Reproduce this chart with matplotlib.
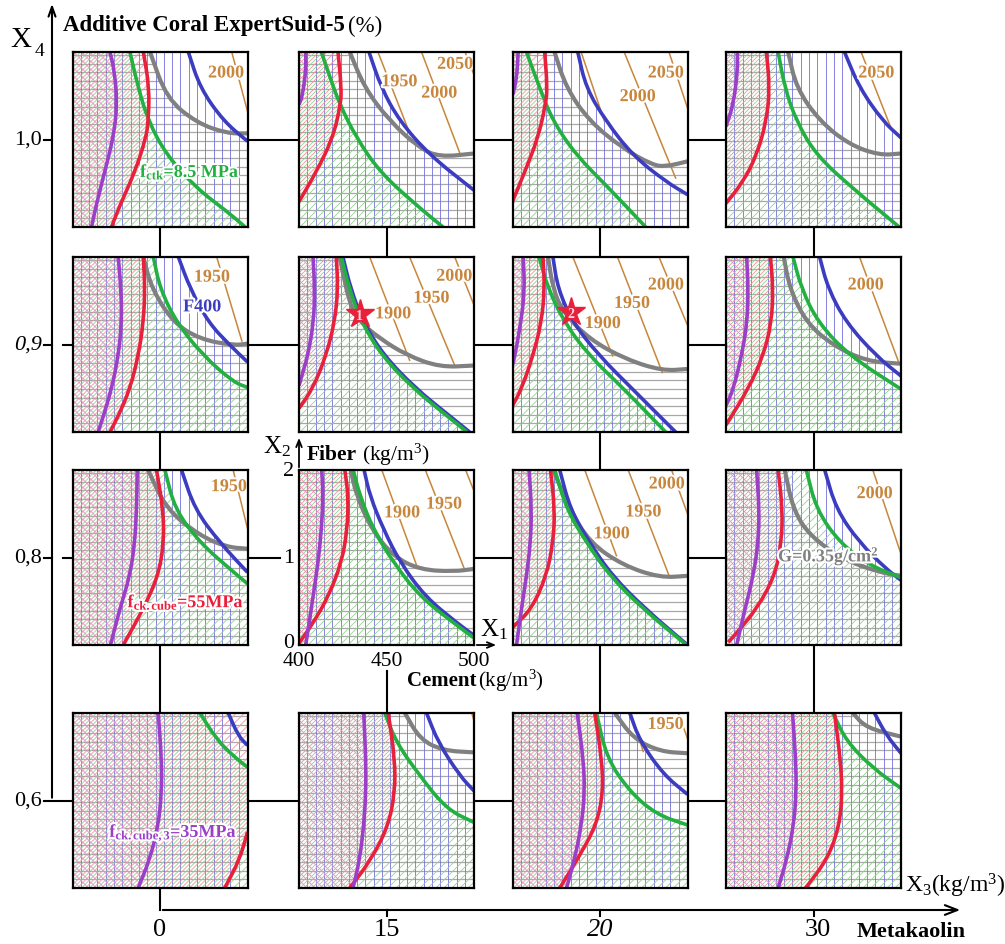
import numpy as np
import matplotlib
matplotlib.use('Agg')
import matplotlib.pyplot as plt
from matplotlib.path import Path
from matplotlib.patches import PathPatch
from matplotlib.collections import LineCollection
import matplotlib.patheffects as pe

plt.rcParams['font.family'] = 'Liberation Serif'
plt.rcParams['mathtext.fontset'] = 'custom'
plt.rcParams['mathtext.rm'] = 'Liberation Serif'
plt.rcParams['mathtext.it'] = 'Liberation Serif:italic'
plt.rcParams['mathtext.bf'] = 'Liberation Serif:bold'

# ---- data (cement kg/m3, fiber kg/m3), panels in row-major order r0c0 .. r3c3
additive_labels = ['1,0', '0,9', '0,8', '0,6']      # X4, rows
metakaolin_labels = ['0', '15', '20', '30']          # X3, columns

# f_ck,cube,3 = 35 MPa
purple = [
    [(421.4, 2), (424, 1.78), (425.6, 1.40), (423.3, 1.02), (418.5, 0.64), (413.4, 0.24), (410.9, 0)],
    [(403.8, 2), (404, 1.8), (402, 1.5), (400, 1.4)],
    [(403.2, 2), (402.7, 1.78), (401.3, 1.59), (400, 1.51)],
    [(406.5, 2), (406.6, 1.78), (404.2, 1.40), (400, 1.15)],
    [(426.1, 2), (427.7, 1.64), (428.1, 1.25), (426.2, 0.87), (422.3, 0.49), (417.6, 0.18), (414.7, 0)],
    [(408, 2), (409, 1.64), (408.4, 1.26), (405.1, 0.88), (402.3, 0.69), (400, 0.53)],
    [(406.1, 2), (407, 1.6), (404.2, 1.18), (401.3, 0.87), (400, 0.76)],
    [(411.8, 2), (412.7, 1.64), (412.1, 1.25), (408.9, 0.87), (404.2, 0.49), (400, 0.30)],
    [(437, 2), (436.6, 1.55), (435.6, 1.17), (432.8, 0.79), (427, 0.41), (421.7, 0)],
    [(413, 2), (413.8, 1.7), (412.8, 1.32), (410.9, 0.94), (408, 0.55), (405.2, 0.17), (403.8, 0)],
    [(409.5, 2), (410.9, 1.55), (410.3, 1.17), (408, 0.79), (405.1, 0.41), (402.3, 0)],
    [(417.5, 2), (419, 1.55), (418.4, 1.17), (415.6, 0.79), (410.8, 0.41), (406.1, 0)],
    [(449, 2), (450.9, 1.47), (450.9, 1.09), (449, 0.71), (444.2, 0.33), (437.5, 0)],
    [(437, 2), (438.2, 1.47), (438.2, 1.09), (437, 0.71), (434.7, 0.33), (430.9, 0)],
    [(437, 2), (440.4, 1.49), (441.3, 1.10), (439.4, 0.72), (435.6, 0.34), (430.9, 0)],
    [(438, 2), (439.8, 1.49), (440.2, 1.10), (438.7, 0.72), (434.9, 0.34), (429.8, 0)],
]

# f_ck,cube = 55 MPa
red = [
    [(440.5, 2), (443.9, 1.59), (443.3, 1.21), (442, 1.02), (435.7, 0.63), (427.1, 0.25), (422.3, 0)],
    [(422.3, 2), (424.2, 1.59), (423.8, 1.40), (419.4, 1.02), (409.9, 0.63), (400, 0.29)],
    [(418.4, 2), (419.9, 1.59), (418.9, 1.40), (414.6, 1.02), (407, 0.63), (400, 0.29)],
    [(423.1, 2), (425, 1.59), (423.1, 1.21), (417.5, 0.82), (409.9, 0.52), (400, 0.27)],
    [(440.5, 2), (441.4, 1.64), (440.5, 1.25), (437.6, 0.87), (432.8, 0.49), (426.1, 0.18), (421.4, 0)],
    [(421.3, 2), (422.3, 1.64), (420.4, 1.26), (415.6, 0.88), (408, 0.50), (400, 0.27)],
    [(417.4, 2), (418.4, 1.64), (416.5, 1.25), (411.7, 0.87), (405.1, 0.49), (400, 0.30)],
    [(425.4, 2), (426.9, 1.64), (426, 1.25), (421.3, 0.87), (412.7, 0.49), (400, 0.08)],
    [(448, 2), (451.8, 1.55), (452.2, 1.17), (449, 0.79), (440.4, 0.41), (429, 0)],
    [(426.2, 2), (428.2, 1.7), (427.6, 1.32), (424.3, 0.94), (416.7, 0.55), (408, 0.25), (400, 0.02)],
    [(421.7, 2), (424.2, 1.55), (423.2, 1.17), (419.4, 0.79), (410.9, 0.41), (400, 0.2)],
    [(429.8, 2), (432.3, 1.55), (431.7, 1.17), (427.9, 0.79), (417.5, 0.41), (406.1, 0.14), (401.3, 0.03)],
    [(500, 0.64), (495.6, 0.33), (487, 0)],
    [(451, 2), (454.8, 1.47), (454.8, 1.09), (451, 0.71), (441.4, 0.33), (429, 0)],
    [(447, 2), (450.9, 1.49), (451.8, 1.10), (448, 0.72), (437.5, 0.34), (427, 0)],
    [(462, 2), (465.3, 1.49), (466.4, 1.10), (464.9, 0.72), (458.3, 0.34), (445.5, 0)],
]

# f_ctk = 8.5 MPa
green = [
    [(432.8, 2), (437.6, 1.59), (443.3, 1.21), (453.8, 0.82), (471, 0.44), (488.2, 0.18), (498.7, 0)],
    [(412.8, 2), (417.9, 1.70), (423.3, 1.40), (432.8, 1.02), (446.1, 0.63), (467, 0.25), (482.3, 0)],
    [(408, 2), (415.5, 1.59), (423.1, 1.21), (436.4, 0.82), (455.3, 0.44), (476.1, 0)],
    [(429.8, 2), (433.6, 1.59), (440.2, 1.21), (451.6, 0.82), (472.5, 0.44), (499, 0)],
    [(446.2, 2), (450, 1.64), (459.5, 1.25), (474.8, 0.87), (492, 0.57), (500, 0.51)],
    [(424.2, 2), (428.6, 1.64), (435.6, 1.26), (447, 0.88), (465.1, 0.50), (484.2, 0.19), (496, 0)],
    [(415.2, 2), (420.3, 1.64), (429.7, 1.25), (443.9, 0.87), (463.8, 0.49), (487.5, 0)],
    [(438.3, 2), (443.1, 1.64), (452.6, 1.25), (470.6, 0.87), (500, 0.49)],
    [(452.8, 2), (458.5, 1.55), (472.8, 1.17), (489.9, 0.87), (500, 0.70)],
    [(431, 2), (434.9, 1.7), (442.5, 1.32), (454, 0.94), (469.3, 0.55), (488.5, 0.25), (500, 0.08)],
    [(424.2, 2), (430.9, 1.55), (442.3, 1.17), (455.6, 0.79), (474.7, 0.41), (499.4, 0)],
    [(445.9, 2), (451.6, 1.55), (464.9, 1.17), (482, 0.91), (500, 0.77)],
    [(472.8, 2), (482.3, 1.70), (491.8, 1.51), (500, 1.38)],
    [(449, 2), (455.7, 1.66), (469.1, 1.28), (484.4, 0.9), (500, 0.75)],
    [(448, 2), (453.7, 1.49), (467, 1.10), (482.3, 0.84), (500, 0.72)],
    [(461.1, 2), (468.7, 1.68), (483.9, 1.37), (500, 1.14)],
]

# F400
blue = [
    [(466.2, 2), (472.9, 1.59), (486.3, 1.21), (500, 0.98)],
    [(440, 2), (447, 1.59), (457.5, 1.21), (474.7, 0.82), (500, 0.42)],
    [(437.3, 2), (442, 1.59), (453.4, 1.21), (468.6, 0.82), (487.5, 0.52), (500, 0.37)],
    [(467.7, 2), (476.3, 1.59), (489.6, 1.21), (500, 1.02)],
    [(460.5, 2), (467.2, 1.64), (477.7, 1.25), (490, 0.99), (500, 0.80)],
    [(425.1, 2), (429.5, 1.64), (436.6, 1.26), (448.2, 0.88), (466.5, 0.50), (485.7, 0.19), (497.5, 0)],
    [(423.1, 2), (425.9, 1.64), (434.5, 1.25), (449.6, 0.87), (468.6, 0.49), (493.2, 0)],
    [(453.5, 2), (458.3, 1.64), (468.7, 1.25), (485.8, 0.87), (500, 0.64)],
    [(462.3, 2), (469.9, 1.55), (484.2, 1.17), (500, 0.83)],
    [(437.2, 2), (440.6, 1.7), (448.3, 1.32), (457.9, 0.94), (472.2, 0.55), (490.4, 0.25), (500, 0.11)],
    [(427, 2), (433, 1.55), (444, 1.17), (457, 0.79), (476, 0.41), (500, 0)],
    [(456.4, 2), (463, 1.55), (476.3, 1.17), (491.5, 0.87), (500, 0.74)],
    [(489, 2), (494.7, 1.74), (500, 1.63)],
    [(472.9, 2), (479.6, 1.66), (492, 1.28), (500, 1.11)],
    [(467, 2), (472.8, 1.68), (486.1, 1.30), (500, 1.07)],
    [(484.8, 2), (491.5, 1.75), (500, 1.54)],
]

# G = 0.35 g/cm2 (None: whole panel below the limit)
gray = [
    [(444.3, 2), (453.8, 1.47), (471, 1.19), (488.2, 1.07), (500, 1.07)],
    [(429, 2), (437.5, 1.59), (451.8, 1.21), (469, 0.90), (480.4, 0.80), (500, 0.84)],
    [(424, 2), (430.7, 1.59), (443.9, 1.21), (462.9, 0.9), (479.9, 0.71), (487.5, 0.69), (500, 0.75)],
    [(435.5, 2), (440.2, 1.59), (453.5, 1.21), (470.6, 0.94), (487.7, 0.82), (500, 0.84)],
    [(440.5, 2), (445.2, 1.64), (457.6, 1.25), (472.9, 1.06), (492, 0.99), (500, 1.01)],
    [(423.2, 2), (429, 1.45), (434.7, 1.26), (446.1, 1.07), (461.3, 0.88), (480.4, 0.74), (500, 0.76)],
    [(420.3, 2), (423.1, 1.64), (428.8, 1.37), (443.9, 1.06), (464.8, 0.83), (485.6, 0.70), (500, 0.72)],
    [(433, 2), (436.4, 1.64), (445.9, 1.25), (461.1, 0.99), (480.1, 0.81), (500, 0.78)],
    [(443.2, 2), (453.7, 1.55), (472.8, 1.25), (488, 1.12), (500, 1.10)],
    [(429.5, 2), (433, 1.7), (441.6, 1.32), (454, 1.01), (469.3, 0.86), (488.5, 0.84), (500, 0.87)],
    [(423.2, 2), (432.8, 1.55), (444.2, 1.17), (463.2, 0.91), (484.2, 0.77), (500, 0.79)],
    [(433.6, 2), (438.3, 1.55), (447.8, 1.25), (466.8, 0.98), (487.7, 0.83), (500, 0.79)],
    None,
    [(460.5, 2), (469.1, 1.7), (482.4, 1.57), (500, 1.55)],
    [(458.5, 2), (469, 1.71), (484.2, 1.56), (500, 1.54)],
    [(472.5, 2), (480.1, 1.83), (500, 1.73)],
]

# density isolines (kg/m3): segments and their labels
density_lines = [
    [[(491, 2), (500, 1.32)]],
    [[(445.1, 2), (462.1, 1.13)], [(470, 2), (491.8, 0.85)], [(494.9, 2), (500, 1.74)]],
    [[(439.2, 2), (452.5, 1.21)], [(463.8, 2), (493.2, 0.56)], [(489.4, 2), (500, 1.36)]],
    [[(477.2, 2), (494.3, 1.13)]],
    [[(482.4, 2), (496.8, 1.04)]],
    [[(440.4, 2), (463.2, 0.82)], [(463.2, 2), (489, 0.76)], [(489, 2), (500, 1.45)]],
    [[(434.5, 2), (457.2, 0.87)], [(460, 2), (485.6, 0.68)], [(483.7, 2), (500, 1.22)]],
    [[(476.3, 2), (499, 0.78)]],
    [[(491.8, 2), (500, 1.33)]],
    [[(447.3, 2), (467.4, 0.9)], [(472.2, 2), (494.3, 0.88)], [(495.2, 2), (500, 1.76)]],
    [[(441.3, 2), (459.4, 1.02)], [(466.1, 2), (489.9, 0.77)], [(490.9, 2), (500, 1.5)]],
    [[(483.9, 2), (500, 1.04)]],
    [],
    [[(498.7, 2), (500, 1.91)]],
    [[(467.7, 2), (474.7, 1.56)], [(494.7, 2), (500, 1.71)]],
    [],
]
density_labels = [
    [(487.6, 1.76, '2000')],
    [(457.3, 1.66, '1950'), (480, 1.53, '2000'), (489.1, 1.86, '2050')],
    [(471.4, 1.49, '2000'), (487.5, 1.76, '2050')],
    [(485.8, 1.76, '2050')],
    [(479.6, 1.77, '1950')],
    [(453.7, 1.35, '1900'), (475.6, 1.53, '1950'), (488.6, 1.78, '2000')],
    [(451.5, 1.24, '1900'), (468.2, 1.47, '1950'), (487.5, 1.68, '2000')],
    [(479.7, 1.68, '2000')],
    [(489.3, 1.81, '1950')],
    [(458.8, 1.51, '1900'), (482.8, 1.61, '1950')],
    [(456.6, 1.27, '1900'), (474.7, 1.52, '1950'), (488, 1.84, '2000')],
    [(484.8, 1.73, '2000')],
    [],
    [],
    [(487.4, 1.87, '1950')],
    [],
]

# curve labels: panel index, x, y, text, colour
curve_labels = [
    (0, 467, 0.63, r'$\mathbf{f_{ctk}}$=8.5 MPa', '#22b040'),
    (4, 474, 1.43, 'F400', '#3c3cc0'),
    (8, 464.7, 0.49, r'$\mathbf{f_{ck.cube}}$=55MPa', '#e8203c'),
    (11, 458.5, 1.02, r'G=0.35g/cm$^{\mathbf{2}}$', '#808080'),
    (12, 457.5, 0.63, r'$\mathbf{f_{ck.cube,3}}$=35MPa', '#9b3fc8'),
]
optimum_points = [(5, 434.7, 1.35, '1'), (6, 433.5, 1.37, '2')]

# ---- layout (pixels)
W, H, S = 1005, 945, 175
col_left = [72.5, 299, 512.5, 726]
row_top = [53, 258, 471, 714]
mid_x = [l + S / 2 for l in col_left]
mid_y = [t + S / 2 for t in row_top]

C_PURPLE, C_RED, C_GREEN, C_BLUE, C_GRAY, C_ORANGE = (
    '#9b3fc8', '#e8203c', '#22b040', '#3c3cc0', '#808080', '#c8863c')


def smooth(curve):
    # quadratic bezier path through the midpoints, read points act as controls
    pts = [tuple(p) for p in curve]
    verts = [pts[0]]
    codes = [Path.LINETO]
    if len(pts) > 2:
        verts.append(((pts[0][0] + pts[1][0]) / 2, (pts[0][1] + pts[1][1]) / 2))
        codes.append(Path.LINETO)
        for a, b in zip(pts[1:-1], pts[2:]):
            verts += [a, ((a[0] + b[0]) / 2, (a[1] + b[1]) / 2)]
            codes += [Path.CURVE3, Path.CURVE3]
    verts.append(pts[-1])
    codes.append(Path.LINETO)
    return verts, codes


def curve_path(curve):
    verts, codes = smooth(curve)
    codes[0] = Path.MOVETO
    return Path(verts, codes)


def region_path(curve, side):
    if curve is None:
        pre, post, verts, codes = [(300, 10), (600, 10)], [(600, -10), (300, -10)], [], []
    else:
        verts, codes = smooth(curve)
        if side == 'left':
            pre = [(curve[0][0], 10)]
            post = [(curve[-1][0], -10), (300, -10), (300, 10)]
        else:
            pre = [(300, 10), (curve[0][0], 10)]
            post = [(600, curve[-1][1]), (600, -10), (300, -10)]
    v = pre + verts + post + [pre[0]]
    c = [Path.MOVETO] + [Path.LINETO] * (len(pre) - 1) + codes + [Path.LINETO] * len(post) + [Path.CLOSEPOLY]
    return Path(v, c)


def hatch(ax, path, kind, step, color, lw, offset=0.0):
    patch = PathPatch(path, fc='none', ec='none', transform=ax.transData)
    ax.add_patch(patch)
    s = step / S
    o = offset / S
    if kind == '|':
        segs = [[(t, 0), (t, 1)] for t in np.arange(o, 1, s)]
    elif kind == '-':
        segs = [[(0, t), (1, t)] for t in np.arange(o, 1, s)]
    elif kind == '/':
        segs = [[(t, 0), (t + 1, 1)] for t in np.arange(-1 + o, 1, s)]
    else:
        segs = [[(t, 0), (t - 1, 1)] for t in np.arange(o, 2, s)]
    lc = LineCollection(segs, colors=color, linewidths=lw, transform=ax.transAxes, zorder=1)
    ax.add_collection(lc, autolim=False)
    lc.set_clip_path(patch)
    lc.set_clip_box(ax.bbox)


fig = plt.figure(figsize=(W / 100, H / 100), dpi=100)
bg = fig.add_axes([0, 0, 1, 1])
bg.set_xlim(0, W)
bg.set_ylim(H, 0)
bg.axis('off')

halo = [pe.withStroke(linewidth=3, foreground='white')]
panels = []

for i in range(16):
    r, c = divmod(i, 4)
    ax = fig.add_axes([col_left[c] / W, 1 - (row_top[r] + S) / H, S / W, S / H])
    panels.append(ax)
    ax.set_facecolor('white')
    ax.set_xlim(400, 500)
    ax.set_ylim(0, 2)
    ax.set_xticks([])
    ax.set_yticks([])
    for sp in ax.spines.values():
        sp.set_linewidth(1.6)
        sp.set_zorder(10)

    hatch(ax, region_path(gray[i], 'below'), '-', 8.6, '#a8a8a8', 0.9)
    hatch(ax, region_path(blue[i], 'below'), '|', 8.3, '#7070da', 0.6)
    hatch(ax, region_path(green[i], 'below'), '/', 8.0, '#94d294', 0.6)
    hatch(ax, region_path(red[i], 'left'), '/', 8.0, '#f3929e', 0.6, offset=4.0)
    hatch(ax, region_path(purple[i], 'left'), '\\', 8.0, '#df92cd', 0.6)

    for seg in density_lines[i]:
        xs, ys = zip(*seg)
        ax.plot(xs, ys, color=C_ORANGE, lw=1.1, zorder=2)

    if gray[i] is not None:
        ax.add_patch(PathPatch(curve_path(gray[i]), fill=False, ec=C_GRAY, lw=3, zorder=3))
    for curve, col in ((blue[i], C_BLUE), (green[i], C_GREEN), (red[i], C_RED), (purple[i], C_PURPLE)):
        ax.add_patch(PathPatch(curve_path(curve), fill=False, ec=col, lw=2.6, zorder=4,
                               capstyle='butt'))

    for x, y, t in density_labels[i]:
        ax.text(x, y, t, color=C_ORANGE, fontsize=13, fontweight='bold',
                ha='center', va='center', zorder=6, path_effects=halo)

for i, x, y, t, col in curve_labels:
    panels[i].text(x, y, t, color=col, fontsize=13, fontweight='bold', ha='center',
                   va='center', zorder=7, path_effects=halo)

for i, x, y, t in optimum_points:
    ax = panels[i]
    ax.plot(x, y, marker='*', ms=21, color='#e8203c', mec='#e8203c', zorder=8)
    ax.text(x, y - 0.02, t, color='#f6d6dc', fontsize=10, fontweight='bold',
            ha='center', va='center', zorder=9)

# ---- connectors between panels
kw = dict(color='black', lw=1.5, zorder=0)
for r in range(4):
    for c in range(3):
        x0 = col_left[c] + S
        x1 = col_left[c + 1] if not (r == 2 and c == 0) else 280
        bg.plot([x0, x1], [mid_y[r]] * 2, **kw)
for c in range(4):
    for r in range(3):
        if c == 1 and r == 1:
            continue
        y0 = row_top[r] + S if not (c == 1 and r == 2) else 672
        bg.plot([mid_x[c]] * 2, [y0, row_top[r + 1]], **kw)
for r in (1, 2):
    bg.plot([63, col_left[0]], [mid_y[r]] * 2, **kw)

# ---- X4 axis (additive)
bg.annotate('', xy=(52, 2), xytext=(52, mid_y[3]),
            arrowprops=dict(arrowstyle='->,head_length=0.7,head_width=0.25', lw=1.5, color='black'))
for r in range(4):
    x_end = col_left[0] if r == 3 else 52
    bg.plot([44, x_end], [mid_y[r]] * 2, **kw)
    bg.text(42, mid_y[r], additive_labels[r], fontsize=16, ha='right', va='center',
            style='italic' if r == 1 else 'normal')
bg.text(10, 40, 'X', fontsize=21, ha='left', va='center')
bg.text(35, 51, '4', fontsize=14, ha='left', va='center')
bg.text(63, 26, 'Additive Coral ExpertSuid-5', fontsize=16.5, fontweight='bold', ha='left', va='center')
bg.text(348, 26, '(%)', fontsize=16.5, ha='left', va='center')

# ---- X3 axis (metakaolin)
bg.plot([mid_x[0]] * 2, [row_top[3] + S, 911], **kw)
bg.annotate('', xy=(963, 911), xytext=(mid_x[0], 911),
            arrowprops=dict(arrowstyle='->,head_length=0.9,head_width=0.35', lw=1.5, color='black'))
for c in range(4):
    if c > 0:
        bg.plot([mid_x[c]] * 2, [911, 917], **kw)
    bg.text(mid_x[c] + (4 if c == 3 else 0), 930, metakaolin_labels[c], fontsize=19,
            ha='center', va='center', style='italic' if c == 2 else 'normal')
bg.text(857, 932, 'Metakaolin', fontsize=16, fontweight='bold', ha='left', va='center')
bg.text(905, 886, r'X$_3$(kg/m$^3$)', fontsize=17, ha='left', va='center')

# ---- centre panel axes (cement / fiber)
cx, cy = col_left[1], row_top[2]
bg.annotate('', xy=(cx, 436), xytext=(cx, cy),
            arrowprops=dict(arrowstyle='->,head_length=0.5,head_width=0.2', lw=1.3, color='black'))
bg.annotate('', xy=(499, cy + S), xytext=(cx + S, cy + S),
            arrowprops=dict(arrowstyle='->,head_length=0.5,head_width=0.2', lw=1.3, color='black'))
bg.text(263, 447, r'X$_2$', fontsize=18, ha='left', va='center')
bg.text(307, 455, 'Fiber', fontsize=15.5, fontweight='bold', ha='left', va='center')
bg.text(362, 455, r'(kg/m$^3$)', fontsize=15.5, ha='left', va='center')
bg.text(480, 630, r'X$_1$', fontsize=18, ha='left', va='center')
for k, lab in enumerate(['2', '1', '0']):
    bg.text(294, cy + k * S / 2 - (3 if k == 2 else 0), lab, fontsize=16, ha='right', va='center')
for k, lab in enumerate(['400', '450', '500']):
    bg.text(cx + k * S / 2, 662, lab, fontsize=15.5, ha='center', va='center')
bg.text(407, 681, 'Cement', fontsize=15, fontweight='bold', ha='left', va='center')
bg.text(478, 681, r'(kg/m$^3$)', fontsize=15, ha='left', va='center')

fig.savefig('out.png', dpi=100)
